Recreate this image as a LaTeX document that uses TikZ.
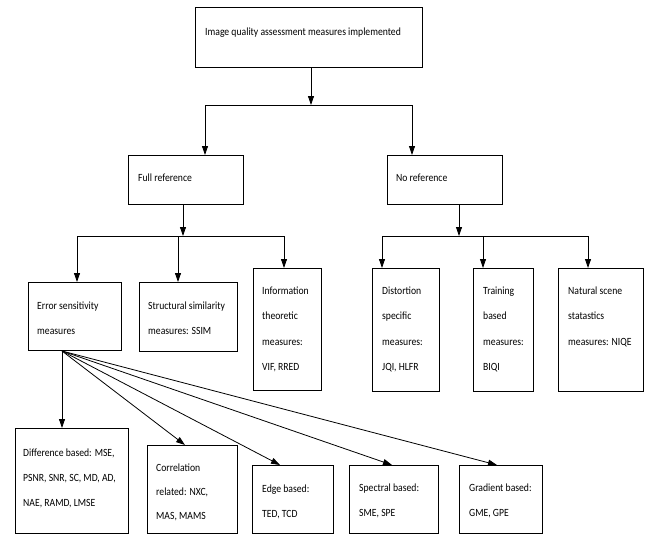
\documentclass[tikz,border=0pt]{standalone}
\usepackage{fontspec}
\setmainfont{Carlito}[FakeStretch=0.88]
\usetikzlibrary{arrows.meta,calc}
\begin{document}
\begin{tikzpicture}[x=1pt,y=-1pt,
  box/.style={draw, line width=0.8pt, inner sep=0pt, anchor=north west},
  txt/.style={anchor=base west, inner sep=0pt, align=left, font=\fontsize{11}{25}\selectfont},
  txtw/.style={txt, font=\fontsize{11}{25.5}\selectfont},
  arr/.style={line width=0.8pt, -{Triangle[length=9pt,width=6pt]}},
  ln/.style={line width=0.8pt}]
\useasboundingbox (0,0) rectangle (648,535);

% boxes
\node[box, minimum width=227pt, minimum height=60pt] (top) at (195,7) {};
\node[box, minimum width=115pt, minimum height=49pt] (full) at (128,155) {};
\node[box, minimum width=115pt, minimum height=49pt] (noref) at (387,155) {};
\node[box, minimum width=93pt, minimum height=68pt] (es) at (28,282) {};
\node[box, minimum width=98pt, minimum height=69pt] (ssim) at (139,282) {};
\node[box, minimum width=68pt, minimum height=122pt] (info) at (253,268) {};
\node[box, minimum width=67pt, minimum height=123pt] (dist) at (372,268) {};
\node[box, minimum width=60pt, minimum height=123pt] (train) at (473,268) {};
\node[box, minimum width=85pt, minimum height=123pt] (nat) at (558,268) {};
\node[box, minimum width=113pt, minimum height=105pt] (diff) at (15,428) {};
\node[box, minimum width=90pt, minimum height=88pt] (corr) at (147,445) {};
\node[box, minimum width=81pt, minimum height=68pt] (edge) at (252,465) {};
\node[box, minimum width=89pt, minimum height=68pt] (spec) at (349,465) {};
\node[box, minimum width=83pt, minimum height=68pt] (grad) at (459,465) {};

% texts (anchored at the baseline of the last line)
\node[txt] (top-t) at (205,36) {Image quality assessment measures implemented};
\node[txt] (full-t) at (138,181) {Full reference};
\node[txt] (noref-t) at (396,181) {No reference};
\node[txt] (es-t) at (37,334) {Error sensitivity\\measures};
\node[txt] (ssim-t) at (148,334) {Structural similarity\\measures: SSIM};
\node[txtw] (info-t) at (262,370.5) {Information\\theoretic\\measures:\\VIF, RRED};
\node[txtw] (dist-t) at (382,370.5) {Distortion\\specific\\measures:\\JQI, HLFR};
\node[txtw] (train-t) at (483,370.5) {Training\\based\\measures:\\BIQI};
\node[txtw] (nat-t) at (568,345) {Natural scene\\statastics\\measures: NIQE};
\node[txt] (diff-t) at (23,506) {Difference based: MSE,\\PSNR, SNR, SC, MD, AD,\\NAE, RAMD, LMSE};
\node[txt, font=\fontsize{11}{24}\selectfont] (corr-t) at (156,519) {Correlation\\related: NXC,\\MAS, MAMS};
\node[txt] (edge-t) at (262,517) {Edge based:\\TED, TCD};
\node[txt] (spec-t) at (359,516) {Spectral based:\\SME, SPE};
\node[txt] (grad-t) at (469,516) {Gradient based:\\GME, GPE};

% level 1
\coordinate (j1) at (311,105);
\coordinate (j1l) at (205,105);
\coordinate (j1r) at (412,105);
\draw[arr] (top.south -| j1) -- (j1);
\draw[ln] (j1l) -- (j1r);
\draw[arr] (j1l) -- (j1l |- full.north);
\draw[arr] (j1r) -- (j1r |- noref.north);

% full reference branch
\coordinate (j2) at (183,236);
\coordinate (j2a) at (77,236);
\coordinate (j2b) at (178,236);
\coordinate (j2c) at (284,236);
\draw[arr] (full.south -| j2) -- (j2);
\draw[ln] (j2a) -- (j2c);
\draw[arr] (j2a) -- (j2a |- es.north);
\draw[arr] (j2b) -- (j2b |- ssim.north);
\draw[arr] (j2c) -- (j2c |- info.north);

% no reference branch
\coordinate (j3) at (459,236);
\coordinate (j3a) at (382,236);
\coordinate (j3b) at (483,236);
\coordinate (j3c) at (588,236);
\draw[arr] (noref.south -| j3) -- (j3);
\draw[ln] (j3a) -- (j3c);
\draw[arr] (j3a) -- (j3a |- dist.north);
\draw[arr] (j3b) -- (j3b |- train.north);
\draw[arr] (j3c) -- (j3c |- nat.north);

% error sensitivity fan
\coordinate (eo) at (62,351);
\draw[arr] (eo) -- (eo |- diff.north);
\draw[arr] (eo) -- ($(corr.north west)+(38,0)$);
\draw[arr] (eo) -- ($(edge.north west)+(28,0)$);
\draw[arr] (eo) -- ($(spec.north west)+(43,0)$);
\draw[arr] (eo) -- ($(grad.north west)+(38,0)$);
\end{tikzpicture}
\end{document}
